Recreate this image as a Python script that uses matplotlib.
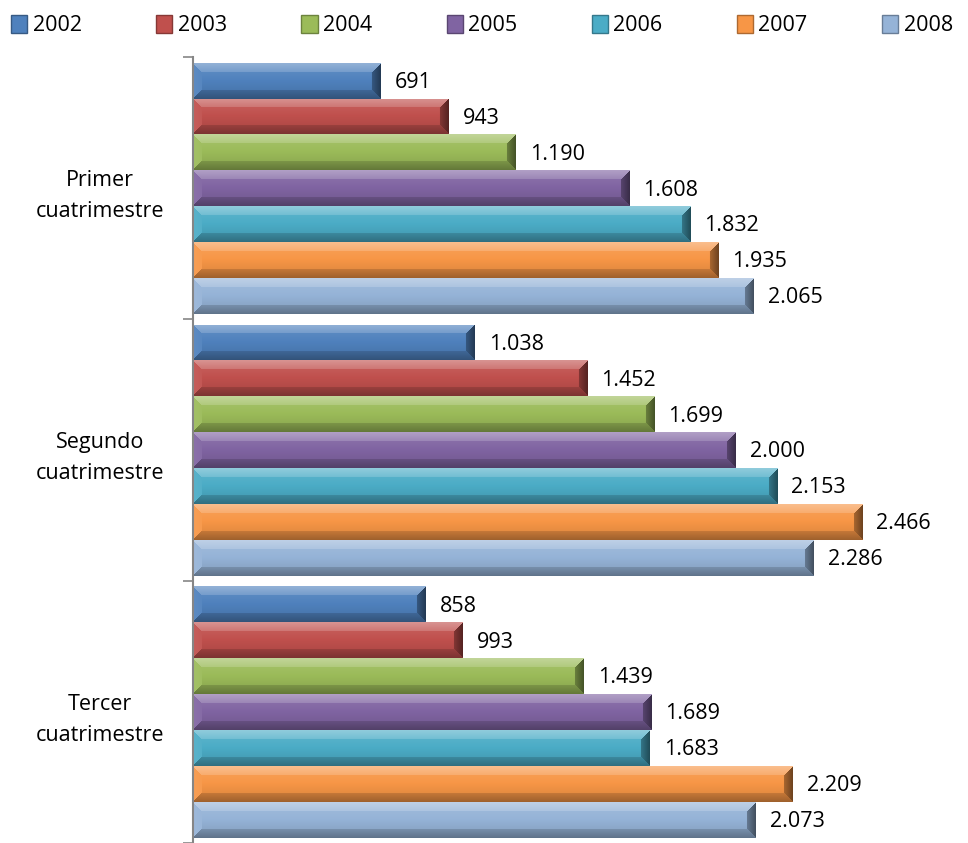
import numpy as np
import matplotlib.pyplot as plt
from matplotlib.patches import Patch
from matplotlib import colors as mcolors

plt.rcParams['font.family'] = ['Open Sans', 'DejaVu Sans']

categories = ['Primer\ncuatrimestre', 'Segundo\ncuatrimestre', 'Tercer\ncuatrimestre']
years = ['2002', '2003', '2004', '2005', '2006', '2007', '2008']
values = {
    '2002': [691, 1038, 858],
    '2003': [943, 1452, 993],
    '2004': [1190, 1699, 1439],
    '2005': [1608, 2000, 1689],
    '2006': [1832, 2153, 1683],
    '2007': [1935, 2466, 2209],
    '2008': [2065, 2286, 2073],
}
palette = ['#4F81BD', '#C0504D', '#9BBB59', '#8064A2', '#4BACC6', '#F79646', '#95B3D7']

PX_PER_UNIT = 0.2713   # rough screen pixels per data unit, used to size the bevel texture
BAR_PX = 36


def bevel_texture(color, nx, ny, b=9):
    base = np.array(mcolors.to_rgb(color))
    yy, xx = np.mgrid[0:ny, 0:nx].astype(float)
    d_top, d_bot = yy, ny - 1 - yy
    d_left, d_right = xx, nx - 1 - xx
    d = np.stack([d_top, d_bot, d_left, d_right])
    edge = d.argmin(axis=0)
    dmin = d.min(axis=0)
    # lighten >0, darken <0 per face
    face = np.array([0.38, -0.35, 0.08, -0.55])[edge]
    strength = np.where(dmin < b, 0.55 + 0.45 * (1 - dmin / b), 0.0)
    f = face * strength
    # soft vertical gradient on the flat face
    t = yy / (ny - 1)
    f = np.where(dmin < b, f, 0.12 - 0.25 * t)
    f = f[..., None]
    img = np.where(f > 0, base + (1 - base) * f, base * (1 + f))
    return np.clip(img, 0, 1)


def bevel_bar(ax, y, v, h, color):
    rect = ax.barh(y, v, height=h, color=color, edgecolor='none', zorder=2)[0]
    nx = max(int(v * PX_PER_UNIT), 20)
    img = bevel_texture(color, nx, BAR_PX)
    im = ax.imshow(img, extent=(0, v, y + h / 2, y - h / 2), origin='upper',
                   aspect='auto', interpolation='bilinear', zorder=2.1)
    im.set_clip_path(rect)


fig = plt.figure(figsize=(9.68, 8.43), dpi=100)
ax = fig.add_axes([0.1994, 0.0, 0.785, 0.932])

S = len(years) + 0.3
for i, cat in enumerate(categories):
    for j, yr in enumerate(years):
        v = values[yr][i]
        y = i * S + (j - 3)
        bevel_bar(ax, y, v, 1.0, palette[j])
        ax.text(v + 52, y + 0.05, f'{v:,}'.replace(',', '.'), va='center', ha='left',
                fontsize=15.5, color='black')

ax.set_xlim(0, 2800)
ax.set_ylim(2.5 * S, -S / 2)
ax.set_xticks([])

ax.set_yticks([(k - 0.5) * S for k in range(4)])
ax.set_yticklabels([])
ax.set_yticks([k * S for k in range(3)], minor=True)
ax.set_yticklabels(categories, minor=True, fontsize=15.5, ha='center', linespacing=1.65)
ax.tick_params(axis='y', which='major', direction='out', length=7, color='#868686', width=1.2)
ax.tick_params(axis='y', which='minor', length=0, pad=67)

for s in ['top', 'right', 'bottom']:
    ax.spines[s].set_visible(False)
ax.spines['left'].set_color('#868686')
ax.spines['left'].set_linewidth(1.5)

def dark(c, f=0.3):
    return tuple(np.array(mcolors.to_rgb(c)) * (1 - f))

handles = [Patch(facecolor=c, edgecolor=dark(c), label=yr) for yr, c in zip(years, palette)]
fig.legend(handles=handles, loc='upper left', bbox_to_anchor=(-0.004, 1.0, 1.004, 0.0),
           mode='expand', ncol=7, frameon=False, fontsize=15.5, handlelength=0.75,
           handleheight=0.9, handletextpad=0.25, borderaxespad=0.3)

fig.savefig('out.png', dpi=100)
